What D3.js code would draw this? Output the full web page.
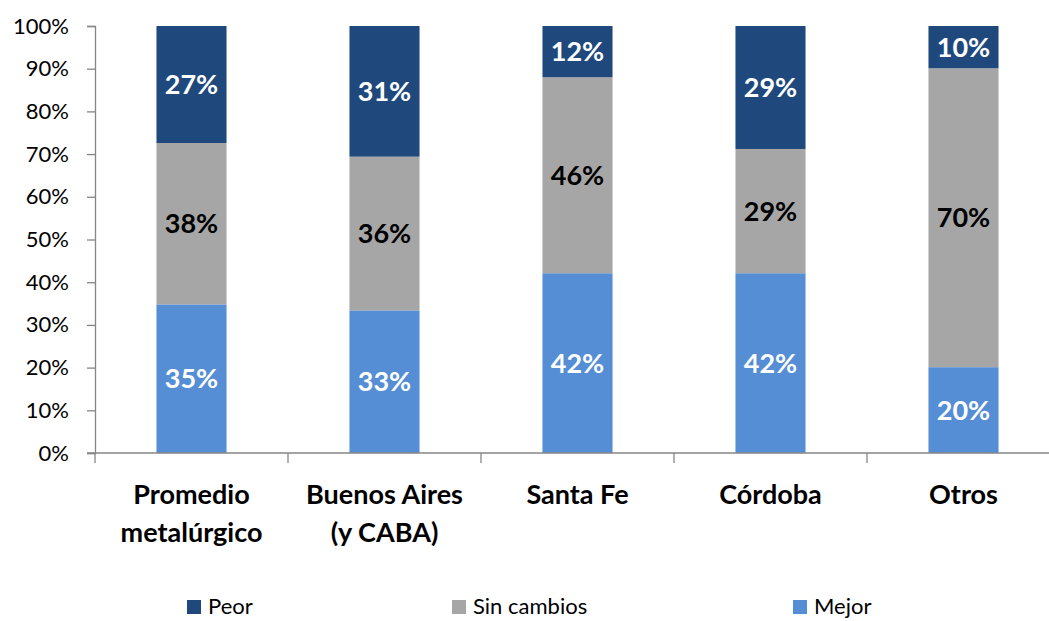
<!DOCTYPE html>
<html>
<head>
<meta charset="utf-8">
<script src="https://cdn.jsdelivr.net/npm/d3@7"></script>
<style>
  body { margin: 0; background: #fff; }
  svg { display: block; font-family: Lato, "Open Sans", sans-serif; }
</style>
</head>
<body>
<svg id="chart" width="1049" height="621"></svg>
<script>
// data (percent)
var CATEGORIES = [["Promedio", "metalúrgico"], ["Buenos Aires", "(y CABA)"], ["Santa Fe"], ["Córdoba"], ["Otros"]];
var MEJOR = [34.8, 33.4, 42.1, 42.1, 20.1];
var SIN_CAMBIOS = [37.8, 36.0, 45.9, 29.1, 70.0];
var PEOR = [27.4, 30.6, 12.0, 28.8, 9.9];
var SERIES = ["Mejor", "Sin cambios", "Peor"];
var LEGEND_ORDER = ["Peor", "Sin cambios", "Mejor"];
var Y_TICKS = [0, 10, 20, 30, 40, 50, 60, 70, 80, 90, 100];

var COLORS = {"Mejor": "#558ed5", "Sin cambios": "#a6a6a6", "Peor": "#1f497d"};
var LABEL_COLORS = {"Mejor": "#fff", "Sin cambios": "#000", "Peor": "#fff"};
var AXIS_COLOR = "#868686";

var PLOT = {left: 95, right: 1060, top: 26, bottom: 453};

var rows = CATEGORIES.map((c, i) => ({
    key: i,
    "Mejor": MEJOR[i],
    "Sin cambios": SIN_CAMBIOS[i],
    "Peor": PEOR[i]
}));

var stacked = d3.stack().keys(SERIES)(rows);

var xScale = d3.scaleBand()
    .domain(rows.map(d => d.key))
    .range([PLOT.left, PLOT.right])
    .paddingInner(0.637)
    .paddingOuter(0.3185);

var xOuter = d3.scaleBand()
    .domain(rows.map(d => d.key))
    .range([PLOT.left, PLOT.right]);

var yScale = d3.scaleLinear()
    .domain([0, 100])
    .range([PLOT.bottom, PLOT.top]);

var svg = d3.select("#chart");

// bars
var layers = svg.append("g")
    .selectAll("g")
    .data(stacked)
    .join("g")
    .attr("fill", d => COLORS[d.key]);

layers.selectAll("rect")
    .data(d => d)
    .join("rect")
    .attr("x", d => xScale(d.data.key))
    .attr("width", xScale.bandwidth())
    .attr("y", d => yScale(d[1]))
    .attr("height", d => yScale(d[0]) - yScale(d[1]));

// value labels
var fmt = d3.format(".0%");
stacked.forEach(layer => {
    svg.append("g")
        .selectAll("text")
        .data(layer)
        .join("text")
        .attr("x", d => xScale(d.data.key) + xScale.bandwidth() / 2)
        .attr("y", d => (yScale(d[0]) + yScale(d[1])) / 2)
        .attr("dy", "0.36em")
        .attr("text-anchor", "middle")
        .attr("font-size", 27)
        .attr("font-weight", "bold")
        .attr("fill", LABEL_COLORS[layer.key])
        .text(d => fmt((d[1] - d[0]) / 100));
});

// y axis
var yAxis = svg.append("g")
    .attr("transform", `translate(${PLOT.left},0)`)
    .call(d3.axisLeft(yScale)
        .tickValues(Y_TICKS)
        .tickSize(8)
        .tickPadding(18)
        .tickFormat(d => d + "%"));
yAxis.select(".domain").attr("stroke", AXIS_COLOR).attr("stroke-width", 1.3);
yAxis.selectAll(".tick line").attr("stroke", AXIS_COLOR).attr("stroke-width", 1.3);
yAxis.selectAll(".tick text")
    .attr("font-family", "Lato, sans-serif")
    .attr("font-size", 22)
    .attr("fill", "#000");

// x axis line with category separators
var xAxisG = svg.append("g");
xAxisG.append("line")
    .attr("x1", PLOT.left - 8)
    .attr("x2", PLOT.right)
    .attr("y1", PLOT.bottom)
    .attr("y2", PLOT.bottom)
    .attr("stroke", AXIS_COLOR)
    .attr("stroke-width", 1.3);
var seps = rows.map(d => xOuter(d.key)).concat([PLOT.right]);
xAxisG.selectAll("line.sep")
    .data(seps)
    .join("line")
    .attr("class", "sep")
    .attr("x1", d => d)
    .attr("x2", d => d)
    .attr("y1", PLOT.bottom)
    .attr("y2", PLOT.bottom + 10)
    .attr("stroke", AXIS_COLOR)
    .attr("stroke-width", 1.3);

// category labels
var catText = xAxisG.selectAll("text.cat")
    .data(rows)
    .join("text")
    .attr("class", "cat")
    .attr("x", d => xScale(d.key) + xScale.bandwidth() / 2)
    .attr("y", 504)
    .attr("text-anchor", "middle")
    .attr("font-size", 27)
    .attr("font-weight", "bold")
    .attr("fill", "#000");
catText.each(function(d) {
    var lines = CATEGORIES[d.key];
    d3.select(this).selectAll("tspan")
        .data(lines)
        .join("tspan")
        .attr("x", xScale(d.key) + xScale.bandwidth() / 2)
        .attr("dy", (l, i) => i === 0 ? 0 : 38)
        .text(l => l);
});

// legend
var LEGEND_X = [187, 452, 793];
var legend = svg.append("g")
    .selectAll("g")
    .data(LEGEND_ORDER)
    .join("g")
    .attr("transform", (d, i) => `translate(${LEGEND_X[i]},600)`);
legend.append("rect")
    .attr("width", 14)
    .attr("height", 14)
    .attr("fill", d => COLORS[d]);
legend.append("text")
    .attr("x", 21)
    .attr("y", 14)
    .attr("font-size", 22)
    .attr("fill", "#000")
    .text(d => d);
</script>
</body>
</html>
